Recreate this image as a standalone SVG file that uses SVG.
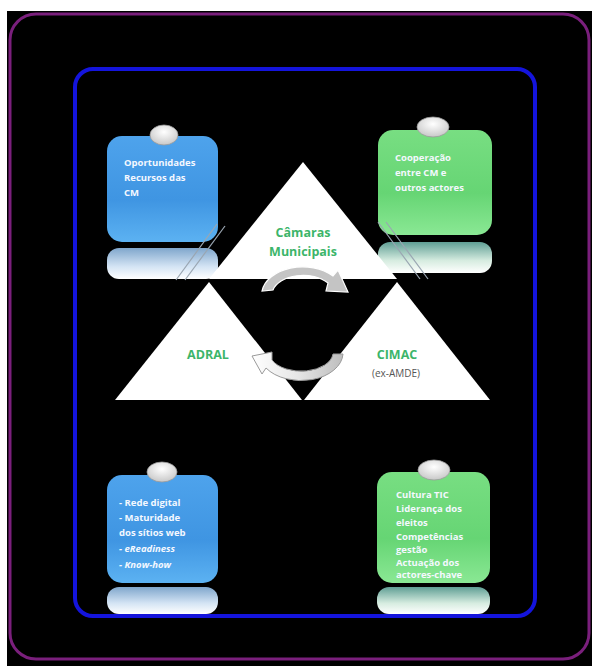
<svg xmlns="http://www.w3.org/2000/svg" width="592" height="666" viewBox="0 0 592 666">
<defs>
<style>
.bt{font-family:"Open Sans","Liberation Sans",sans-serif;font-size:9.5px;font-weight:bold;fill:#f4f8ff}
.tt{font-family:"Open Sans","Liberation Sans",sans-serif;font-size:12.5px;font-weight:bold;fill:#3cb56a;text-anchor:middle}
.tri{fill:#ffffff}
.knob{fill:url(#gKnob);stroke:#9a9a9a;stroke-width:0.8}
.ln{stroke:#9aa6b2;stroke-width:1.2;fill:none}
</style>
<linearGradient id="gBlue" x1="0" y1="0" x2="0" y2="1">
<stop offset="0" stop-color="#4ea3ec"/><stop offset="0.6" stop-color="#3f95e2"/><stop offset="1" stop-color="#5cb2f2"/>
</linearGradient>
<linearGradient id="gGreen" x1="0" y1="0" x2="0" y2="1">
<stop offset="0" stop-color="#78de82"/><stop offset="0.6" stop-color="#66d574"/><stop offset="1" stop-color="#8ae894"/>
</linearGradient>
<linearGradient id="gRefB" x1="0" y1="0" x2="0" y2="1">
<stop offset="0" stop-color="#7fa6cc"/><stop offset="0.6" stop-color="#d4e4f4"/><stop offset="1" stop-color="#ffffff"/>
</linearGradient>
<linearGradient id="gRefG" x1="0" y1="0" x2="0" y2="1">
<stop offset="0" stop-color="#5f9e94"/><stop offset="0.6" stop-color="#d6ece0"/><stop offset="1" stop-color="#ffffff"/>
</linearGradient>
<radialGradient id="gKnob" cx="0.5" cy="0.35" r="0.7">
<stop offset="0" stop-color="#ffffff"/><stop offset="1" stop-color="#c4c4c4"/>
</radialGradient>
<linearGradient id="gArrB" x1="0" y1="0" x2="1" y2="0">
<stop offset="0" stop-color="#ffffff"/><stop offset="0.5" stop-color="#e6e6e6"/><stop offset="1" stop-color="#bdbdbd"/>
</linearGradient>
</defs>

<rect x="0" y="0" width="592" height="666" fill="#ffffff"/>
<rect x="7" y="11" width="585" height="655" fill="#000000"/>
<rect x="10" y="14" width="579" height="645" rx="26" fill="none" stroke="#7a1f7c" stroke-width="3"/>
<rect x="75" y="69" width="460" height="547" rx="18" fill="none" stroke="#1414dc" stroke-width="4"/>

<g id="box-oportunidades">
<rect x="107" y="248" width="111" height="31" rx="12" fill="url(#gRefB)"/>
<rect x="107" y="136" width="111" height="106" rx="15" fill="url(#gBlue)"/>
<ellipse class="knob" cx="164" cy="135" rx="14" ry="10"/>
<text class="bt" x="124" y="166">Oportunidades</text>
<text class="bt" x="124" y="181">Recursos das</text>
<text class="bt" x="124" y="196">CM</text>
</g>

<g id="box-cooperacao">
<rect x="378" y="242" width="114" height="31" rx="12" fill="url(#gRefG)"/>
<rect x="378" y="130" width="114" height="105" rx="15" fill="url(#gGreen)"/>
<ellipse class="knob" cx="433" cy="127" rx="16" ry="10"/>
<text class="bt" x="395" y="161">Cooperação</text>
<text class="bt" x="395" y="176">entre CM e</text>
<text class="bt" x="395" y="191">outros actores</text>
</g>

<g id="box-rede">
<rect x="107" y="587" width="111" height="27" rx="12" fill="url(#gRefB)"/>
<rect x="107" y="475" width="111" height="108" rx="15" fill="url(#gBlue)"/>
<ellipse class="knob" cx="162" cy="472" rx="15" ry="10"/>
<text class="bt" x="119" y="506">- Rede digital</text>
<text class="bt" x="119" y="521">- Maturidade</text>
<text class="bt" x="119" y="536">dos sítios web</text>
<text class="bt" x="119" y="552" font-style="italic">- eReadiness</text>
<text class="bt" x="119" y="568" font-style="italic">- Know-how</text>
</g>

<g id="box-cultura">
<rect x="377" y="587" width="113" height="27" rx="12" fill="url(#gRefG)"/>
<rect x="377" y="472" width="113" height="111" rx="15" fill="url(#gGreen)"/>
<ellipse class="knob" cx="434" cy="470" rx="16" ry="10"/>
<text class="bt" x="396" y="498">Cultura TIC</text>
<text class="bt" x="396" y="512">Liderança dos</text>
<text class="bt" x="396" y="526">eleitos</text>
<text class="bt" x="396" y="540">Competências</text>
<text class="bt" x="396" y="553">gestão</text>
<text class="bt" x="396" y="566">Actuação dos</text>
<text class="bt" x="396" y="578">actores-chave</text>
</g>

<g id="connectors">
<line class="ln" x1="217" y1="224" x2="176" y2="280"/>
<line class="ln" x1="225" y1="226" x2="185" y2="280"/>
<line class="ln" x1="378" y1="222" x2="420" y2="279"/>
<line class="ln" x1="386" y1="222" x2="428" y2="279"/>
</g>

<g id="tri-camaras">
<polygon class="tri" points="303,162 209,279 397,279"/>
<text class="tt" x="303" y="237">Câmaras</text>
<text class="tt" x="303" y="256">Municipais</text>
</g>

<g id="tri-adral">
<polygon class="tri" points="209,282 115,400 302,400"/>
<text class="tt" x="208" y="359">ADRAL</text>
</g>

<g id="tri-cimac">
<polygon class="tri" points="397,282 304,400 490,400"/>
<text class="tt" x="397" y="359">CIMAC</text>
<text x="396" y="377" font-family="Open Sans, Liberation Sans, sans-serif" font-size="10" fill="#555555" text-anchor="middle">(ex-AMDE)</text>
</g>

<g id="cycle-arrows">
<path d="M262,291 A41,28 0 0 1 333,276 L338,270 L348,292 L326,291 L328,283 A31,19 0 0 0 273,290 Z" fill="#c4c4c4" stroke="#ffffff" stroke-width="1.2"/>
<path d="M343,354 A42,28 0 0 1 266,368 L262,374 L252,356 L272,352 L272,360 A32,19 0 0 0 333,354 Z" fill="url(#gArrB)" stroke="#9a9a9a" stroke-width="1"/>
</g>
</svg>
